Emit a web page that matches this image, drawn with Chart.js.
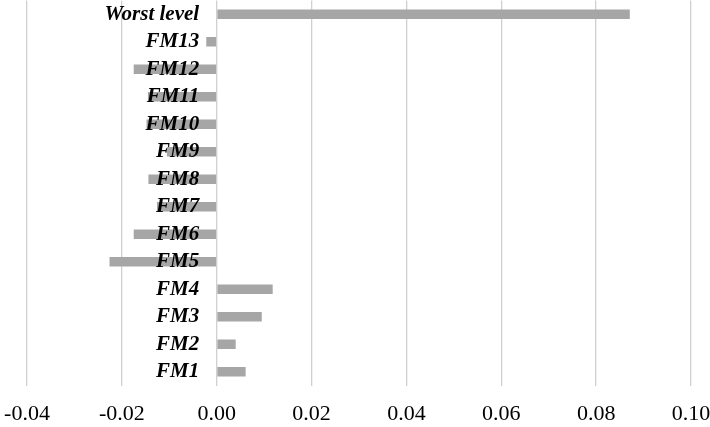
<!DOCTYPE html>
<html>
<head>
<meta charset="utf-8">
<script src="https://cdn.jsdelivr.net/npm/chart.js@4"></script>
<style>
  html, body { margin: 0; padding: 0; background: #fff; }
  #wrap { width: 710px; height: 427px; }
</style>
</head>
<body>
<div id="wrap"><canvas id="chart"></canvas></div>
<script>
// categories, top to bottom
const categories = ['Worst level', 'FM13', 'FM12', 'FM11', 'FM10', 'FM9', 'FM8',
                    'FM7', 'FM6', 'FM5', 'FM4', 'FM3', 'FM2', 'FM1'];
const values = [0.0871, -0.0022, -0.0175, -0.0145, -0.0148, -0.0105, -0.0144,
                -0.0126, -0.0175, -0.0226, 0.0118, 0.0095, 0.0040, 0.0061];
const xTicks = [-0.04, -0.02, 0.00, 0.02, 0.04, 0.06, 0.08, 0.10];

const ctx = document.getElementById('chart').getContext('2d');
new Chart(ctx, {
    type: 'bar',
    data: {
        labels: categories,
        datasets: [{
            data: values,
            backgroundColor: '#a6a6a6',
            borderWidth: 0,
            categoryPercentage: 1,
            barPercentage: 0.35
        }]
    },
    options: {
        indexAxis: 'y',
        responsive: true,
        maintainAspectRatio: false,
        animation: false,
        layout: { padding: { left: 27, right: 19, top: 0.5, bottom: 1 } },
        plugins: {
            legend: { display: false },
            tooltip: { enabled: false }
        },
        scales: {
            x: {
                min: xTicks[0],
                max: xTicks[xTicks.length - 1],
                afterBuildTicks: (scale) => {
                    scale.ticks = xTicks.map(v => ({ value: v }));
                },
                afterFit: (scale) => {
                    scale.paddingLeft = 0;
                    scale.paddingRight = 0;
                    scale.height = 40.5;
                },
                grid: { color: '#d0d0d0', lineWidth: 1.3, drawTicks: false },
                border: { display: false },
                ticks: {
                    padding: 16,
                    color: '#000',
                    font: { family: 'Liberation Serif', size: 22 },
                    callback: (v) => Number(v).toFixed(2)
                }
            },
            y: {
                // labels sit just left of the zero line, drawn over the bars
                position: { x: -0.0037 },
                afterFit: (scale) => {
                    scale.paddingTop = 0;
                    scale.paddingBottom = 0;
                },
                grid: { display: false, drawTicks: false },
                border: { display: false },
                ticks: {
                    z: 1,
                    autoSkip: false,
                    padding: 0,
                    color: '#000',
                    font: { family: 'Liberation Serif', size: 21, style: 'italic', weight: 'bold' }
                }
            }
        }
    },
    plugins: [{
        id: 'whiteBg',
        beforeDraw: (chart) => {
            const c = chart.ctx;
            c.save();
            c.fillStyle = '#fff';
            c.fillRect(0, 0, chart.width, chart.height);
            c.restore();
        }
    }]
});
</script>
</body>
</html>
